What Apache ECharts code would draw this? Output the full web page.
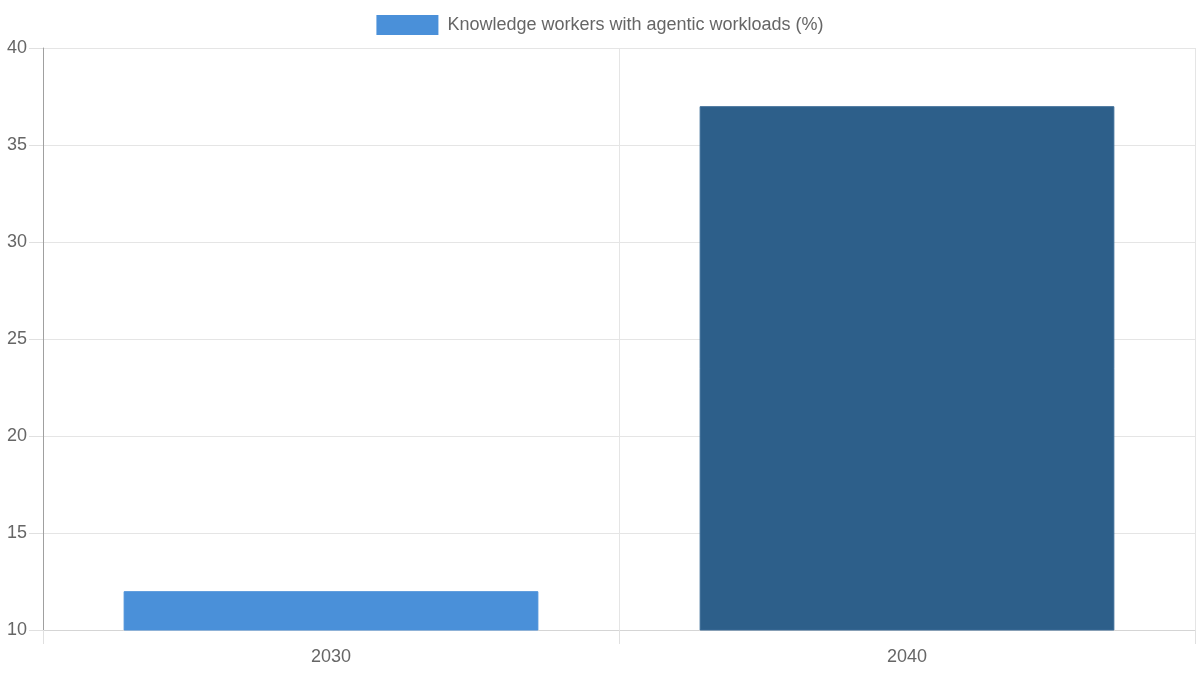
<!DOCTYPE html>
<html>
<head>
<meta charset="utf-8">
<script src="https://cdn.jsdelivr.net/npm/echarts@6/dist/echarts.min.js"></script>
<style>html,body{margin:0;padding:0;background:#fff}#c{width:1200px;height:675px}</style>
</head>
<body>
<div id="c"></div>
<script>
const categories = ['2030', '2040'];
const values = [12, 37];
const barColors = ['#4a90d9', '#2d5f8a'];
const seriesName = 'Knowledge workers with agentic workloads (%)';

const chart = echarts.init(document.getElementById('c'));
chart.setOption({
  animation: false,
  textStyle: { fontFamily: 'Liberation Sans, Arial, sans-serif' },
  legend: {
    top: 10,
    left: 'center',
    itemWidth: 60,
    itemHeight: 18,
    icon: 'rect',
    data: [seriesName],
    textStyle: { fontSize: 18, color: '#666', padding: [0, 0, 0, 5] }
  },
  grid: { left: 43, right: 5, top: 48, bottom: 45, containLabel: false },
  xAxis: {
    type: 'category',
    data: categories,
    boundaryGap: true,
    axisLine: { show: true, lineStyle: { color: '#d5d5d5', width: 1 } },
    axisTick: { show: true, length: 14, lineStyle: { color: '#e0e0e0' } },
    axisLabel: { fontSize: 18, color: '#666', margin: 18 },
    splitLine: { show: true, lineStyle: { color: '#e5e5e5' } }
  },
  yAxis: {
    type: 'value',
    min: 10,
    max: 40,
    interval: 5,
    axisLine: { show: true, lineStyle: { color: '#a0a0a0', width: 1 } },
    axisTick: { show: true, length: 14, lineStyle: { color: '#e0e0e0' } },
    axisLabel: { fontSize: 18, color: '#666', margin: 16 },
    splitLine: { show: true, lineStyle: { color: '#e5e5e5' } }
  },
  series: [{
    name: seriesName,
    type: 'bar',
    barWidth: '72%',
    itemStyle: { color: barColors[0], borderColor: barColors[0], borderWidth: 1 },
    data: values.map((v, i) => ({
      value: v,
      itemStyle: { color: barColors[i], borderColor: i === 1 ? '#3a6b96' : barColors[i], borderWidth: 1 }
    }))
  }]
});
</script>
</body>
</html>
